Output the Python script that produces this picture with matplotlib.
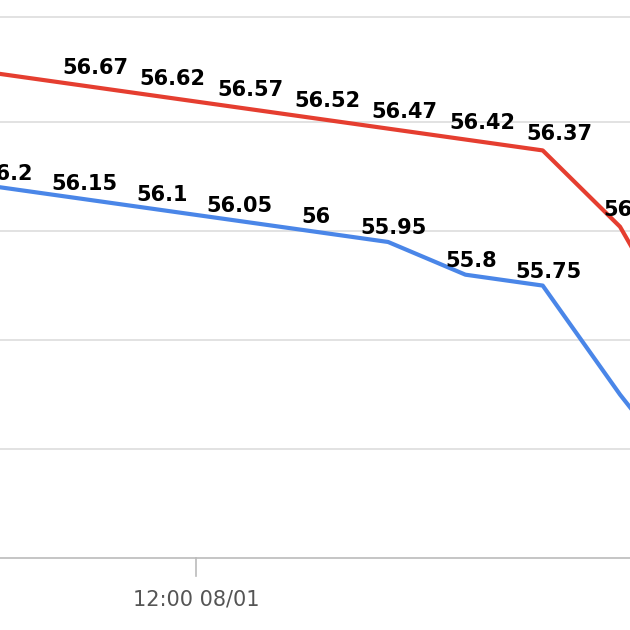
import matplotlib
matplotlib.use("Agg")
import matplotlib.pyplot as plt

# point index along the time axis (8 hour steps); 12:00 08/01 falls at ~2.52
steps = [0, 1, 2, 3, 4, 5, 6, 7, 8, 9]
red_vals = [56.72, 56.67, 56.62, 56.57, 56.52, 56.47, 56.42, 56.37, 56.02, 55.4]
blue_vals = [56.2, 56.15, 56.1, 56.05, 56.0, 55.95, 55.8, 55.75, 55.25, 54.8]
red_labels = ["", "56.67", "56.62", "56.57", "56.52", "56.47", "56.42", "56.37", "56.02", ""]
blue_labels = ["56.2", "56.15", "56.1", "56.05", "56", "55.95", "55.8", "55.75", "", ""]
tick_pos = [2.52]
tick_text = ["12:00 08/01"]

RED = "#e53e30"
BLUE = "#4a86e8"

fig = plt.figure(figsize=(6.3, 6.3), dpi=100)
ax = fig.add_axes([0, 0, 1, 1])
ax.set_xlim(-0.02, 630 / 77.5)
ax.set_ylim(57.06 - 630 / 218, 57.06)
ax.axis("off")

for g in [55.0, 55.5, 56.0, 56.5, 56.98]:
    ax.axhline(g, color="#dddddd", lw=1.2, zorder=0)
ax.axhline(54.5, color="#bbbbbb", lw=1.2, zorder=0)

for p, t in zip(tick_pos, tick_text):
    ax.plot([p, p], [54.5, 54.42], color="#bbbbbb", lw=1.2)
    ax.text(p, 54.31, t, ha="center", va="center", fontsize=15, color="#555555")

ax.plot(steps, red_vals, color=RED, lw=3, solid_joinstyle="round", zorder=3)
ax.plot(steps, blue_vals, color=BLUE, lw=3, solid_joinstyle="round", zorder=3)

for x, v, lab in zip(steps, red_vals, red_labels):
    if lab:
        ax.annotate(lab, (x, v), xytext=(12, 12), textcoords="offset points",
                    ha="center", va="center", fontsize=15, fontweight="bold", zorder=4)
for x, v, lab in zip(steps, blue_vals, blue_labels):
    if lab:
        ax.annotate(lab, (x, v), xytext=(4, 10), textcoords="offset points",
                    ha="center", va="center", fontsize=15, fontweight="bold", zorder=4)

fig.savefig("out.png", dpi=100)
